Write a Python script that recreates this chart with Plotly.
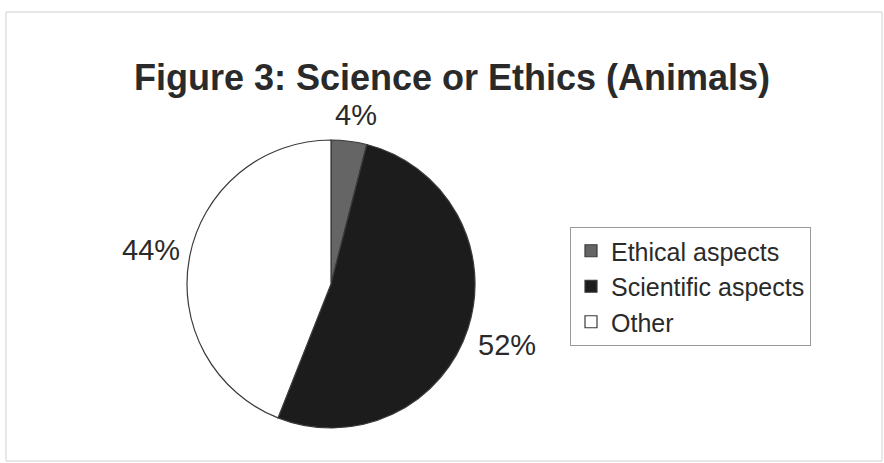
import plotly.graph_objects as go

categories = ["Ethical aspects", "Scientific aspects", "Other"]
values = [4, 52, 44]
colors = ["#656565", "#1c1c1c", "#ffffff"]

W, H = 884, 463
cx, cy, r = 331, 284, 144

# label centres (pixels) for each slice's percentage
label_pos = [(356, 115), (507, 345), (151, 250)]

fig = go.Figure(go.Pie(
    labels=categories,
    values=values,
    sort=False,
    direction="clockwise",
    rotation=0,
    marker=dict(colors=colors, line=dict(color="#3a3a3a", width=1.2)),
    textinfo="none",
    domain=dict(x=[(cx - r) / W, (cx + r) / W], y=[(H - cy - r) / H, (H - cy + r) / H]),
    hoverinfo="label+percent",
))

total = sum(values)
annotations = []
for v, (px, py) in zip(values, label_pos):
    annotations.append(dict(
        text=f"{round(100 * v / total)}%",
        x=px / W, y=1 - py / H, xref="paper", yref="paper",
        xanchor="center", yanchor="middle", showarrow=False,
        font=dict(family="Liberation Sans, Arial", size=29, color="#2a2a2a"),
    ))

fig.update_layout(
    width=W, height=H,
    margin=dict(l=0, r=0, t=0, b=0),
    paper_bgcolor="white",
    plot_bgcolor="white",
    font=dict(family="Liberation Sans, Arial", color="#2a2a2a"),
    title=dict(
        text="<b>Figure 3: Science or Ethics (Animals)</b>",
        x=452 / W, xanchor="center",
        y=1 - 77 / H, yanchor="middle",
        font=dict(family="Liberation Sans, Arial", size=36, color="#2a2a2a"),
    ),
    legend=dict(
        x=570 / W, xanchor="left",
        y=1 - 227 / H, yanchor="top",
        bordercolor="#9a9a9a", borderwidth=1,
        font=dict(family="Liberation Sans, Arial", size=25, color="#2a2a2a"),
        tracegroupgap=0,
        itemwidth=30,
    ),
    annotations=annotations,
    shapes=[dict(
        type="rect", xref="paper", yref="paper",
        x0=6 / W, x1=882 / W, y0=1 - 461 / H, y1=1 - 12 / H,
        line=dict(color="#d0d0d0", width=1),
    )],
)

fig.write_html("out.html")
